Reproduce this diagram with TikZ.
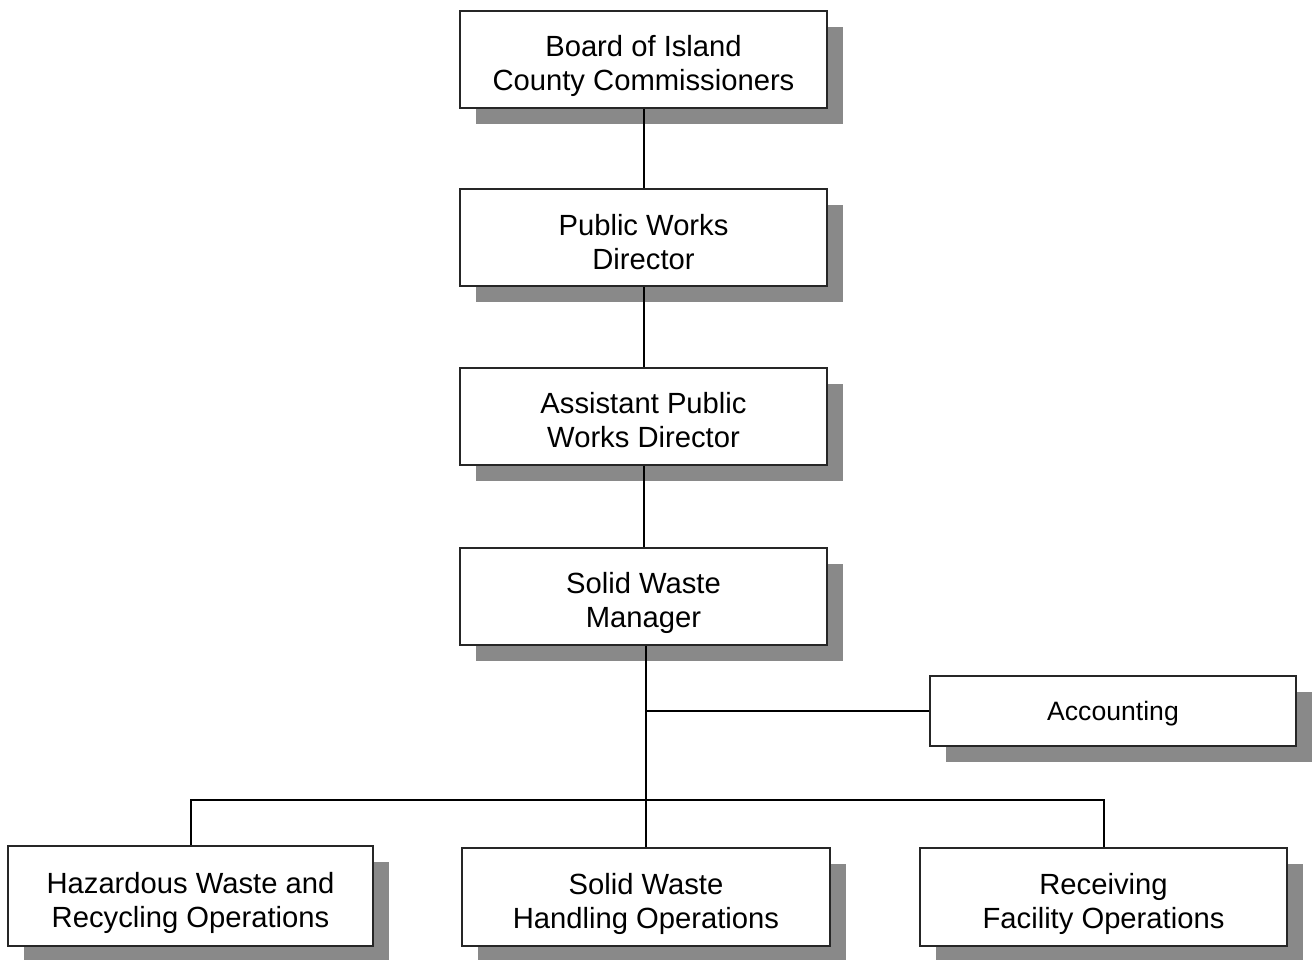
\documentclass[tikz,border=0pt]{standalone}
\usepackage{fontspec}
\setmainfont{Liberation Sans}
\definecolor{bongxam}{HTML}{898989}
\usetikzlibrary{shadows,calc}

\begin{document}
\begin{tikzpicture}[x=0.5pt,y=-0.5pt,
	hop/.style={draw=black!85,line width=1pt,fill=white,align=center,
		minimum width=183.5pt,minimum height=48.5pt,inner sep=0pt,
		text height=31.6pt,text depth=0pt,
		font=\fontsize{14.6pt}{17pt}\selectfont,
		drop shadow={shadow xshift=8pt,shadow yshift=-8pt,fill=bongxam,opacity=1}},
	noi/.style={draw=black,line width=1pt}]
	\useasboundingbox (0,0) rectangle (1312,959);
	% chuoi chi huy
	\path (643.5,59) node[hop] (board) {Board of Island\\County Commissioners}
		(643.5,237.5) node[hop] (pwdir) {Public Works\\Director}
		(643.5,416) node[hop] (asstdir) {Assistant Public\\Works Director}
		(643.5,596) node[hop] (swmgr) {Solid Waste\\Manager};
	\path (1113,711) node[hop,minimum width=183pt,minimum height=35pt,
		text height=9.6pt,font=\fontsize{13.3pt}{16pt}\selectfont] (acct) {Accounting};
	% cac bo phan
	\path (190.5,896) node[hop,minimum width=182.5pt,minimum height=50pt] (hazops) {Hazardous Waste and\\Recycling Operations}
		(646,897) node[hop,minimum width=184pt,minimum height=49pt] (swops) {Solid Waste\\Handling Operations}
		(1103.5,897) node[hop,minimum width=183.5pt,minimum height=49pt] (rcvops) {Receiving\\Facility Operations};
	\path (swops.north |- acct.west) coordinate (nhanh)
		(645,800) coordinate (thanh);
	\draw[noi] (board) -- (pwdir);
	\draw[noi] (pwdir) -- (asstdir);
	\draw[noi] (asstdir) -- (swmgr);
	\draw[noi] (swmgr.south -| swops.north) -- (swops.north);
	\draw[noi] (nhanh) -- (acct.west);
	\draw[noi] (hazops.north) |- (thanh) -| (rcvops.north);
\end{tikzpicture}
\end{document}
